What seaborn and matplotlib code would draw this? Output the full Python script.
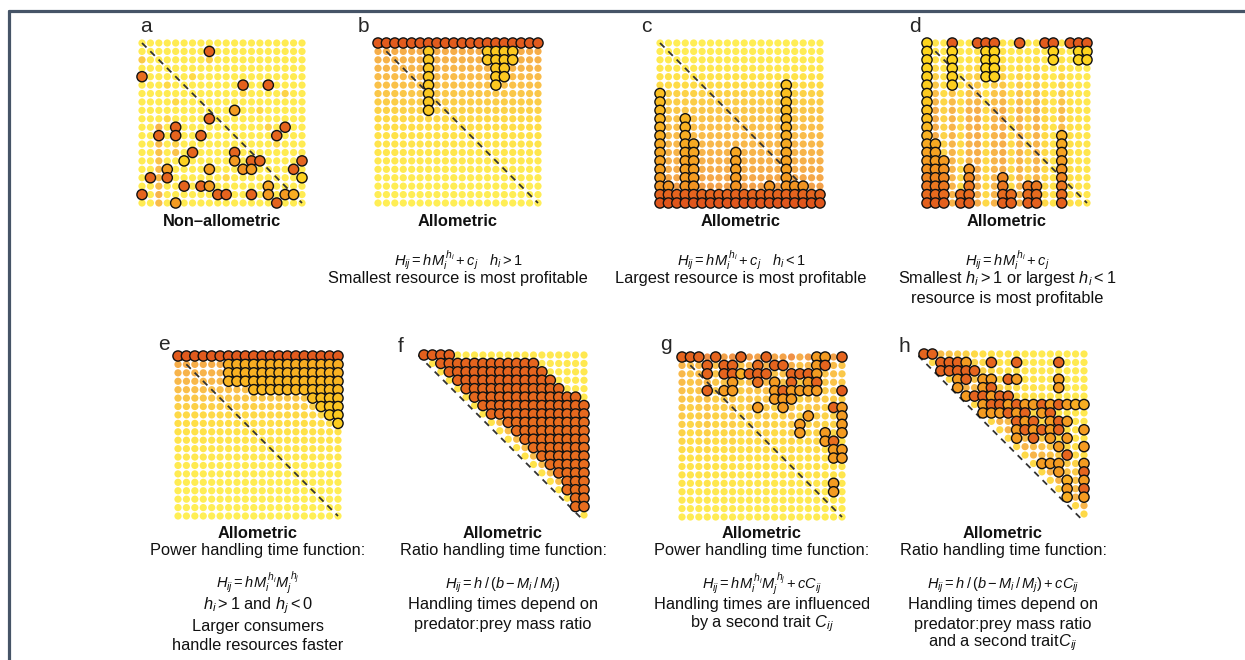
import numpy as np
import pandas as pd
import matplotlib
matplotlib.use("Agg")
import matplotlib.pyplot as plt
from matplotlib.colors import LinearSegmentedColormap
from matplotlib.lines import Line2D
import seaborn as sns

sns.set_theme(style="white")
plt.rcParams["font.family"] = ["Liberation Sans", "DejaVu Sans"]
plt.rcParams["mathtext.fontset"] = "custom"
plt.rcParams["mathtext.rm"] = "Liberation Sans"
plt.rcParams["mathtext.it"] = "Liberation Sans:italic"
plt.rcParams["mathtext.bf"] = "Liberation Sans:bold"

N = 20
heat = LinearSegmentedColormap.from_list(
    "heat", ["#ffee33", "#ffd91e", "#f8ad22", "#ee8020", "#df521c"])

# ---------------- panel a : non-allometric, scattered ----------------
a_bg_base = 0.08
a_spot_row = [2, 2, 6, 6, 7, 9, 10, 11, 12, 13, 14, 15, 16, 17, 18, 19, 12, 13, 8, 10, 4, 16, 5, 12]
a_spot_col = [0, 8, 12, 17, 4, 3, 2, 2, 2, 2, 2, 2, 2, 2, 2, 2, 4, 4, 14, 15, 6, 10, 3, 16]
a_spot_lev = [.4, .35, .3, .35, .3, .3, .55, .45, .5, .45, .45, .5, .5, .5, .55, .5, .35, .45, .3, .35, .3, .3, .3, .3]
a_hl_row = [1, 4, 5, 5, 8, 9, 10, 10, 11, 11, 11, 11, 13, 13, 14, 14, 14, 14, 14, 15,
            15, 15, 15, 15, 16, 16, 16, 17, 17, 17, 17, 18, 18, 18, 18, 18, 18, 18, 19, 19]
a_hl_col = [8, 0, 12, 15, 11, 8, 4, 17, 2, 4, 7, 16, 6, 11, 5, 11, 13, 14, 19, 3,
            8, 12, 13, 18, 1, 3, 19, 5, 7, 8, 15, 0, 9, 10, 13, 15, 17, 18, 4, 16]
a_hl_lev = [.92, .85, .92, .92, .6, .92, .9, .9, .9, .9, .9, .9, .9, .9, .3, .6, .9, .9, .9, .6,
            .6, .65, .6, .9, .9, .9, .3, .9, .9, .6, .55, .9, .9, .9, .9, .6, .6, .5, .6, .9]

# ---------------- panel b ----------------
b_row_level = [1.0, 0.6, 0.57, 0.54, 0.5, 0.46, 0.42, 0.38, 0.34, 0.3,
               0.26, 0.22, 0.18, 0.15, 0.12, 0.1, 0.08, 0.06, 0.05, 0.04]
b_hl_row = [0, 1, 1, 2, 2, 3, 3, 4, 4, 5, 5, 6, 7, 8]
b_hl_from = [0, 6, 13, 6, 13, 6, 14, 6, 14, 6, 14, 6, 6, 6]
b_hl_to = [19, 6, 16, 6, 16, 6, 15, 6, 15, 6, 14, 6, 6, 6]
b_hl_lev = [0.95] + [0.35] * 13

# ---------------- panel c ----------------
c_row_level = [0.05, 0.07, 0.1, 0.14, 0.2, 0.28, 0.34, 0.38, 0.42, 0.45,
               0.48, 0.5, 0.52, 0.55, 0.58, 0.6, 0.63, 0.68, 0.92, 1.0]
c_hl_col = [0, 1, 3, 4, 9, 13, 15, 16, 17]
c_hl_from = [6, 17, 9, 12, 13, 17, 5, 17, 17]
c_hl_to = [17, 17, 17, 17, 17, 17, 17, 17, 17]
c_base_rows = [18, 19]
c_hl_level = [0.35, 0.35, 0.35, 0.35, 0.35, 0.38, 0.4, 0.42, 0.44, 0.46,
              0.48, 0.5, 0.52, 0.54, 0.56, 0.58, 0.6, 0.64, 0.9, 0.98]

# ---------------- panel d ----------------
d_col_level = [0.6, 0.6, 0.35, 0.55, 0.3, 0.55, 0.6, 0.3, 0.55, 0.6,
               0.3, 0.55, 0.35, 0.55, 0.3, 0.2, 0.5, 0.25, 0.2, 0.15]
d_row_weight = [0.3, 0.35, 0.4, 0.5, 0.6, 0.7, 0.8, 0.9, 1, 1,
                1, 1, 1, 1, 1, 1, 1, 1, 1, 1]
d_hl_col = [0, 1, 2, 3, 4, 5, 6, 7, 8, 9, 10, 11, 12, 13, 14, 15, 16, 17, 18, 19]
d_hl_from = [0, 12, 14, 0, 18, 15, 0, 0, 0, 16, 18, 0, 17, 17, 0, 0, 11, 0, 0, 0]
d_hl_to = [19, 19, 19, 5, 19, 19, 0, 4, 4, 19, 19, 0, 19, 19, 0, 2, 19, 0, 2, 2]
d_hl_level = [0.95, 0.28, 0.28, 0.28, 0.3, 0.32, 0.34, 0.36, 0.38, 0.4,
              0.44, 0.48, 0.52, 0.56, 0.6, 0.65, 0.72, 0.8, 0.86, 0.92]
d_top_yellow = [0]

# ---------------- panel e ----------------
e_row_level = [1.0, 0.6, 0.56, 0.52, 0.48, 0.42, 0.36, 0.3, 0.26, 0.22,
               0.18, 0.15, 0.12, 0.1, 0.08, 0.07, 0.06, 0.05, 0.04, 0.03]
e_hl_row = [0, 1, 2, 3, 4, 5, 6, 7, 8]
e_hl_from = [0, 6, 6, 6, 9, 16, 17, 18, 19]
e_hl_to = [19, 19, 19, 19, 19, 19, 19, 19, 19]
e_hl_lev = [0.95, 0.5, 0.48, 0.46, 0.44, 0.4, 0.36, 0.34, 0.32]

# ---------------- panel f ----------------
f_band_from = [0, 2, 3, 4, 5, 6, 7, 8, 10, 11, 12, 13, 14, 15, 16, 17, 17, 18, 18, 20]
f_band_to = [3, 13, 14, 15, 16, 18, 19, 19, 19, 19, 19, 19, 19, 19, 19, 19, 19, 19, 19, 19]
f_band_lev = [0.92, 0.9, 0.9, 0.9, 0.88, 0.88, 0.88, 0.88, 0.85, 0.85,
              0.85, 0.85, 0.85, 0.85, 0.85, 0.85, 0.85, 0.85, 0.85, 0.85]
f_gap_level = 0.5
f_diag_level = 0.2
f_right_level = 0.12

# ---------------- panel g ----------------
g_row_level = [0.75, 0.55, 0.52, 0.5, 0.47, 0.44, 0.42, 0.4, 0.37, 0.34,
               0.31, 0.28, 0.25, 0.22, 0.2, 0.17, 0.14, 0.12, 0.1, 0.08]
g_col_weight = [1, 0.85, 0.95, 1.05, 0.85, 0.9, 1.0, 0.8, 0.95, 0.9,
                1.0, 0.85, 0.9, 1.05, 0.8, 0.95, 1.0, 0.85, 0.9, 0.8]
g_hl_row = [0, 0, 0, 0, 0, 0, 0, 0, 0,
            1, 1, 1, 1, 1, 1, 1, 1,
            2, 2, 2, 2, 2, 2, 2, 2, 2, 2, 2,
            3, 3, 3, 3, 3, 3,
            4, 4, 4, 4, 4, 4, 4, 4, 4, 4,
            5, 5, 5, 6, 6, 6, 6, 7, 7, 8, 8, 9, 9, 9, 10, 10, 11, 11, 12, 12, 15, 16]
g_hl_col = [0, 1, 2, 4, 7, 10, 16, 17, 19,
            3, 5, 6, 9, 11, 12, 16, 17,
            3, 5, 6, 7, 8, 9, 10, 13, 14, 15, 16,
            6, 9, 11, 13, 15, 16,
            3, 5, 6, 11, 12, 13, 14, 15, 16, 19,
            11, 12, 13, 9, 12, 18, 19, 15, 19, 14, 19, 14, 17, 19, 17, 18, 18, 19, 18, 19, 18, 18]
g_hl_lev = [.9, .9, .9, .9, .9, .9, .6, .6, .9,
            .9, .9, .9, .85, .9, .9, .6, .9,
            .9, .9, .9, .5, .9, .9, .9, .9, .9, .9, .6,
            .6, .85, .6, .9, .6, .9,
            .9, .6, .6, .6, .9, .6, .6, .6, .6, .95,
            .6, .6, .6, .6, .6, .9, .6, .6, .6, .6, .6, .6, .6, .6, .6, .85, .6, .6, .6, .6, .6, .6]

# ---------------- panel h ----------------
h_diag_level = [0.3, 0.55, 0.5, 0.45, 0.4, 0.35, 0.3, 0.25, 0.22, 0.2,
                0.18, 0.15, 0.12, 0.12, 0.1, 0.1, 0.1, 0.1, 0.1, 0.1]
h_hl_row = [0, 0, 1, 1, 1, 1, 1, 1, 1, 2, 2, 2, 2, 2,
            3, 3, 3, 3, 3, 3, 3, 4, 4, 4, 4, 5, 5, 5, 5, 5, 5,
            6, 6, 6, 6, 6, 6, 6, 6, 6, 6, 6, 6, 6,
            7, 7, 7, 7, 7, 7, 7, 7, 8, 8, 8, 8, 8, 8,
            9, 9, 9, 9, 9, 9, 9, 10, 10, 10, 10, 11, 11, 12,
            13, 13, 13, 13, 14, 14, 15, 15, 16, 16, 17, 17]
h_hl_col = [0, 1, 2, 3, 4, 5, 8, 11, 16, 2, 3, 4, 5, 6,
            4, 5, 7, 8, 10, 11, 16, 4, 7, 8, 16, 5, 6, 7, 8, 9, 10,
            7, 8, 9, 10, 11, 12, 13, 14, 15, 16, 17, 18, 19,
            7, 8, 9, 10, 11, 12, 14, 15, 11, 12, 13, 15, 16, 17,
            11, 12, 13, 14, 15, 16, 19, 11, 13, 15, 17, 16, 19, 17,
            14, 15, 16, 19, 16, 19, 17, 19, 17, 19, 17, 19]
h_hl_lev = [.9, .9, .9, .9, .9, .6, .9, .9, .9, .9, .9, .9, .9, .9,
            .6, .9, .6, .6, .9, .6, .6, .6, .6, .9, .6, .6, .9, .9, .6, .9, .9,
            .6, .9, .9, .6, .9, .6, .6, .9, .6, .9, .6, .5, .5,
            .6, .6, .6, .9, .6, .9, .6, .9, .9, .6, .9, .6, .9, .6,
            .6, .9, .6, .9, .6, .9, .6, .6, .9, .6, .6, .6, .6, .9,
            .6, .6, .6, .6, .6, .9, .5, .6, .6, .9, .5, .6]

# ---------------- layout (pixels) ----------------
W, H = 1245, 660
STEP = 160 / 19
fig = plt.figure(figsize=(W / 100, H / 100), dpi=100)


def frame(rows, cols, levels):
    return pd.DataFrame({"row": rows, "col": cols, "level": levels})


def grid_frame(level2d, mask=None):
    rr, cc = np.meshgrid(np.arange(N), np.arange(N), indexing="ij")
    lv = np.asarray(level2d, dtype=float)
    keep = np.ones_like(lv, bool) if mask is None else mask
    return frame(rr[keep], cc[keep], lv[keep])


def row_runs(rows, c0, c1, levels):
    recs = [(r, c, lv) for r, a, b, lv in zip(rows, c0, c1, levels) for c in range(a, b + 1)]
    return pd.DataFrame(recs, columns=["row", "col", "level"])


def col_runs(cols, r0, r1, level_by_row):
    recs = [(r, c, level_by_row[r]) for c, a, b in zip(cols, r0, r1) for r in range(a, b + 1)]
    return pd.DataFrame(recs, columns=["row", "col", "level"])


def panel(gx, gy, bg, hl, diag=(0, 0, 19, 19)):
    left, top, size = gx - 0.7 * STEP, gy - 0.7 * STEP, 20.6 * STEP
    ax = fig.add_axes([left / W, 1 - (top + size) / H, size / W, size / H])
    sns.scatterplot(data=bg, x="col", y="row", hue="level", palette=heat, hue_norm=(0, 1),
                    s=27, linewidth=0, alpha=0.82, legend=False, ax=ax, zorder=2)
    ax.plot([diag[0], diag[2]], [diag[1], diag[3]], ls=(0, (3.5, 3)), color="#333333",
            lw=1.3, zorder=3)
    sns.scatterplot(data=hl, x="col", y="row", hue="level", palette=heat, hue_norm=(0, 1),
                    s=54, edgecolor="#111111", linewidth=1.0, legend=False, ax=ax, zorder=4)
    ax.set_xlim(-0.7, 19.9)
    ax.set_ylim(19.9, -0.7)
    ax.set_axis_off()
    return ax


rr, cc = np.meshgrid(np.arange(N), np.arange(N), indexing="ij")

# a
a_lv = np.full((N, N), a_bg_base)
a_lv[a_spot_row, a_spot_col] = a_spot_lev
panel(142, 43, grid_frame(a_lv), frame(a_hl_row, a_hl_col, a_hl_lev))

# b
b_lv = np.repeat(np.array(b_row_level)[:, None], N, axis=1)
panel(378, 43, grid_frame(b_lv), row_runs(b_hl_row, b_hl_from, b_hl_to, b_hl_lev))

# c
c_lv = np.repeat(np.array(c_row_level)[:, None], N, axis=1)
c_hl = pd.concat([col_runs(c_hl_col, c_hl_from, c_hl_to, c_hl_level),
                  row_runs(c_base_rows, [0, 0], [19, 19], [c_hl_level[r] for r in c_base_rows])])
panel(660, 43, grid_frame(c_lv), c_hl)

# d
d_lv = np.outer(d_row_weight, d_col_level)
d_hl = col_runs(d_hl_col, d_hl_from, d_hl_to, d_hl_level)
d_hl.loc[(d_hl["row"] == 0) & d_hl["col"].isin(d_top_yellow), "level"] = d_hl_level[1]
panel(927, 43, grid_frame(d_lv), d_hl)

# e
e_lv = np.repeat(np.array(e_row_level)[:, None], N, axis=1)
panel(178, 356, grid_frame(e_lv), row_runs(e_hl_row, e_hl_from, e_hl_to, e_hl_lev))

# f
f_lv = np.full((N, N), f_right_level)
for r in range(N):
    f_lv[r, r:f_band_from[r]] = f_gap_level
    f_lv[r, r] = f_diag_level
panel(424, 355, grid_frame(f_lv, cc >= rr),
      row_runs(range(N), f_band_from, f_band_to, f_band_lev), diag=(-0.7, 0.0, 18.9, 19.6))

# g
g_lv = np.outer(g_row_level, g_col_weight)
panel(682, 357, grid_frame(g_lv), frame(g_hl_row, g_hl_col, g_hl_lev))

# h
h_lv = np.array(h_diag_level)[np.clip(cc - rr, 0, N - 1)]
panel(924, 354, grid_frame(h_lv, cc >= rr), frame(h_hl_row, h_hl_col, h_hl_lev),
      diag=(-0.7, 0.2, 18.7, 19.6))

# ---------------- text ----------------
labels = ["a", "b", "c", "d", "e", "f", "g", "h"]
label_x = [140, 358, 641, 909, 158, 398, 660, 898]
label_y = [32, 32, 32, 32, 350, 352, 350, 352]
for s, x, y in zip(labels, label_x, label_y):
    fig.text(x / W, 1 - y / H, s, fontsize=15, ha="left", va="baseline")

# (y, text, weight, size)
captions = [
    (222, [(221, "Non–allometric", "bold", 11.8)]),
    (458, [(221, "Allometric", "bold", 11.8),
           (260, r"$H_{ij}=hM_i^{\,h_i}+c_j\ \ \ h_i>1$", "normal", 10.5),
           (279, "Smallest resource is most profitable", "normal", 11.8)]),
    (741, [(221, "Allometric", "bold", 11.8),
           (260, r"$H_{ij}=hM_i^{\,h_i}+c_j\ \ \ h_i<1$", "normal", 10.5),
           (279, "Largest resource is most profitable", "normal", 11.8)]),
    (1007, [(221, "Allometric", "bold", 11.8),
            (260, r"$H_{ij}=hM_i^{\,h_i}+c_j$", "normal", 10.5),
            (279, r"Smallest $h_i>1$ or largest $h_i<1$", "normal", 11.8),
            (298, "resource is most profitable", "normal", 11.8)]),
    (258, [(533, "Allometric", "bold", 11.8),
           (551, "Power handling time function:", "normal", 11.8),
           (583, r"$H_{ij}=hM_i^{\,h_i}M_j^{\,h_j}$", "normal", 10.5),
           (606, r"$h_i>1$ and $h_j<0$", "normal", 11.8),
           (626, "Larger consumers", "normal", 11.8),
           (646, "handle resources faster", "normal", 11.8)]),
    (503, [(533, "Allometric", "bold", 11.8),
           (551, "Ratio handling time function:", "normal", 11.8),
           (585, r"$H_{ij}=h\,/\,(b-M_i\,/\,M_j)$", "normal", 10.5),
           (605, "Handling times depend on", "normal", 11.8),
           (624, "predator:prey mass ratio", "normal", 11.8)]),
    (762, [(533, "Allometric", "bold", 11.8),
           (551, "Power handling time function:", "normal", 11.8),
           (584, r"$H_{ij}=hM_i^{\,h_i}M_j^{\,h_j}+cC_{ij}$", "normal", 10.5),
           (605, "Handling times are influenced", "normal", 11.8),
           (624, r"by a second trait $C_{ij}$", "normal", 11.8)]),
    (1003, [(533, "Allometric", "bold", 11.8),
            (551, "Ratio handling time function:", "normal", 11.8),
            (585, r"$H_{ij}=h\,/\,(b-M_i\,/\,M_j)+cC_{ij}$", "normal", 10.5),
            (605, "Handling times depend on", "normal", 11.8),
            (624, "predator:prey mass ratio", "normal", 11.8),
            (643, r"and a second trait$C_{ij}$", "normal", 11.8)]),
]
for cx, lines in captions:
    for y, s, wt, fs in lines:
        fig.text(cx / W, 1 - y / H, s, fontsize=fs, ha="center", va="center",
                 weight=wt, color="#111111")

# frame lines along top and left edge
edge = "#465467"
fig.add_artist(Line2D([8.5 / W, 1], [1 - 10.5 / H, 1 - 10.5 / H], color=edge, lw=2.3,
                      transform=fig.transFigure))
fig.add_artist(Line2D([8.5 / W, 8.5 / W], [0, 1 - 10.5 / H], color=edge, lw=2.3,
                      transform=fig.transFigure))

fig.savefig("out.png", dpi=100, facecolor="white")
